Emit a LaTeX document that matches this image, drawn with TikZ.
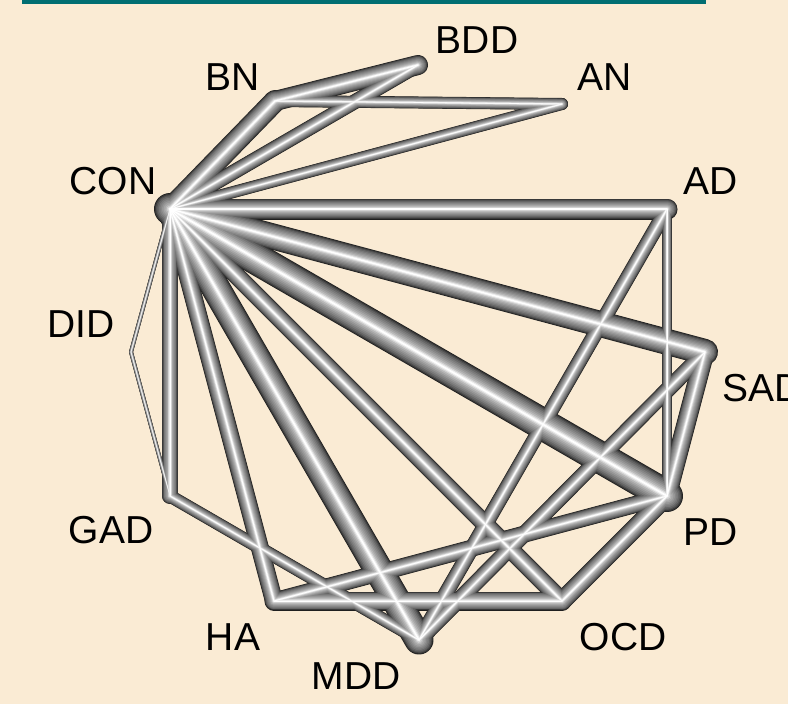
\documentclass[tikz,border=0pt]{standalone}
\usepackage{fontspec}
\setmainfont{Liberation Sans}
\definecolor{bgbeige}{HTML}{FAEBD4}
\definecolor{barteal}{HTML}{006E72}
\begin{document}
\begin{tikzpicture}[x=1pt,y=-1pt,
  lab/.style={font=\fontsize{39}{39}\selectfont, inner sep=0pt, text=black}]
\fill[bgbeige] (0,0) rectangle (788,704);
\useasboundingbox (0,0) rectangle (788,704);
\fill[barteal] (22,0) rectangle (706,4);
% node centres
\coordinate (BDD) at (418,65);
\coordinate (AN)  at (562,104);
\coordinate (AD)  at (667,209);
\coordinate (SAD) at (705,352);
\coordinate (PD)  at (667,496);
\coordinate (OCD) at (562,601);
\coordinate (MDD) at (419,640);
\coordinate (HA)  at (274,601);
\coordinate (GAD) at (170,496);
\coordinate (DID) at (131,352);
\coordinate (CON) at (170,209);
\coordinate (BN)  at (275,101);
% tubes, drawn shell by shell
\foreach \f/\p in {1/88,0.95/78,0.88/68,0.80/60,0.70/53,0.60/47,0.50/41,0.40/35,0.30/28,0.20/18,0.12/7,0.05/0}{
  \foreach \a/\b/\w in {CON/PD/32,CON/MDD/29,CON/SAD/26,CON/AD/21,CON/BN/22,BN/BDD/20,
      CON/BDD/15,CON/OCD/18,CON/HA/18,CON/GAD/16,CON/AN/12,BN/AN/12,CON/DID/4,DID/GAD/4,
      GAD/MDD/13,AD/PD/10,AD/MDD/15,SAD/PD/19,SAD/MDD/16,PD/OCD/19,PD/HA/17,HA/OCD/19}{
    \pgfmathsetmacro\lw{\f*\w}
    \draw[line cap=round, line join=round, line width=\lw pt, draw=black!\p] (\a) -- (\b);
  }
}
% labels
\node[lab] (tBDD) at (477,40) {BDD};
\node[lab] (tBN)  at (233,77) {BN};
\node[lab] (tAN)  at (605,77) {AN};
\node[lab] (tCON) at (113,181) {CON};
\node[lab] (tAD)  at (711,181) {AD};
\node[lab] (tDID) at (81,324) {DID};
\node[lab,anchor=west] (tSAD) at (722,388) {SAD};
\node[lab] (tGAD) at (111,530) {GAD};
\node[lab] (tPD)  at (711,532) {PD};
\node[lab] (tOCD) at (623,637) {OCD};
\node[lab] (tHA)  at (233,637) {HA};
\node[lab] (tMDD) at (356,676) {MDD};
\end{tikzpicture}
\end{document}
